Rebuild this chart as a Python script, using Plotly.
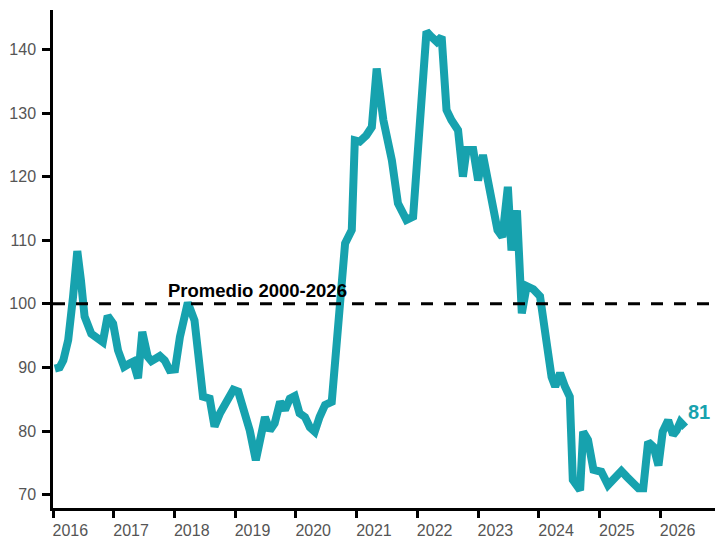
import plotly.graph_objects as go

# Traced series (decimal year, index value)
anio = [2016.03, 2016.11, 2016.17, 2016.25, 2016.33, 2016.40, 2016.46, 2016.52, 2016.63, 2016.74,
        2016.82, 2016.90, 2016.99, 2017.07, 2017.17, 2017.26, 2017.32, 2017.40, 2017.47, 2017.56,
        2017.62, 2017.76, 2017.84, 2017.92, 2018.01, 2018.09, 2018.22, 2018.33, 2018.42, 2018.47,
        2018.58, 2018.66, 2018.75, 2018.86, 2018.97, 2019.05, 2019.13, 2019.24, 2019.34, 2019.41,
        2019.49, 2019.57, 2019.65, 2019.74, 2019.82, 2019.90, 2019.98, 2020.06, 2020.15, 2020.23,
        2020.31, 2020.39, 2020.48, 2020.59, 2020.67, 2020.75, 2020.81, 2020.92, 2020.97, 2021.05,
        2021.16, 2021.25, 2021.33, 2021.44, 2021.58, 2021.68, 2021.82, 2021.93, 2022.15, 2022.23,
        2022.32, 2022.40, 2022.48, 2022.56, 2022.67, 2022.75, 2022.81, 2022.92, 2023.00, 2023.08,
        2023.17, 2023.25, 2023.32, 2023.40, 2023.49, 2023.55, 2023.64, 2023.72, 2023.80, 2023.91,
        2024.02, 2024.13, 2024.21, 2024.27, 2024.35, 2024.43, 2024.51, 2024.56, 2024.62, 2024.68,
        2024.73, 2024.81, 2024.90, 2025.03, 2025.14, 2025.25, 2025.36, 2025.45, 2025.56, 2025.64,
        2025.72, 2025.80, 2025.89, 2025.97, 2026.04, 2026.13, 2026.21, 2026.27, 2026.33, 2026.38,
        2026.41]
indice = [89.8, 90.0, 91.1, 94.3, 101.1, 108.3, 103.7, 98.0, 95.3, 94.6,
          94.0, 98.1, 96.9, 92.7, 90.1, 90.6, 90.9, 88.3, 95.6, 91.7,
          91.0, 91.8, 91.1, 89.6, 89.7, 94.8, 100.2, 97.4, 90.6, 85.4,
          85.1, 80.7, 82.8, 84.9, 86.5, 86.2, 83.8, 80.1, 75.4, 79.1,
          82.2, 80.1, 81.2, 84.6, 83.3, 85.1, 85.5, 82.8, 82.2, 80.6,
          79.9, 82.2, 84.1, 84.6, 94.3, 103.7, 109.5, 111.6, 125.7, 125.5,
          126.5, 127.8, 137.0, 128.9, 122.6, 115.8, 113.2, 113.7, 142.8, 142.0,
          141.2, 142.0, 130.5, 128.9, 127.3, 120.0, 124.2, 124.2, 119.4, 123.4,
          118.4, 114.7, 111.6, 110.5, 118.4, 108.4, 114.7, 98.5, 102.8, 102.3,
          101.2, 93.8, 88.5, 87.0, 89.1, 87.0, 85.4, 72.3, 71.2, 70.7,
          79.9, 78.6, 73.9, 73.6, 71.5, 72.8, 73.7, 72.8, 71.8, 71.0,
          71.0, 78.3, 77.5, 74.6, 79.9, 81.7, 79.4, 80.1, 81.4, 80.9,
          80.6]

promedio = 100
promedio_texto = "Promedio 2000-2026"
ultimo_texto = "81"
anios_ticks = [2016, 2017, 2018, 2019, 2020, 2021, 2022, 2023, 2024, 2025, 2026]
y_ticks = [70, 80, 90, 100, 110, 120, 130, 140]

TEAL = "#17A2AE"
FONT = "Liberation Sans, Arial, sans-serif"

fig = go.Figure()
fig.add_trace(go.Scatter(x=anio, y=indice, mode="lines",
                         line=dict(color=TEAL, width=8), hoverinfo="skip",
                         showlegend=False))

fig.add_hline(y=promedio, line=dict(color="black", width=3, dash="12px,11px"))

fig.add_annotation(x=2017.857, y=promedio, xref="x", yref="y", text=promedio_texto,
                   showarrow=False, xanchor="left", yanchor="bottom", yshift=1,
                   font=dict(family=FONT, size=18.5, color="black", weight="bold"))
fig.add_annotation(x=anio[-1], y=indice[-1], xref="x", yref="y", text=ultimo_texto,
                   showarrow=False, xanchor="left", yanchor="middle", xshift=1, yshift=15,
                   font=dict(family=FONT, size=20, color=TEAL, weight="bold"))

# page body has an 8px margin: size/margins compensate so the plot area sits at 53..723 x 10..508
fig.update_layout(
    width=715, height=531,
    margin=dict(l=45, r=0, t=2, b=31),
    paper_bgcolor="white", plot_bgcolor="white",
    font=dict(family=FONT),
)
fig.update_xaxes(range=[2016, 2027.033], tickvals=anios_ticks,
                 ticktext=[str(a) for a in anios_ticks], automargin=False,
                 showgrid=False, zeroline=False, showline=True, linecolor="black",
                 linewidth=2.5, ticks="outside", ticklen=7, tickwidth=2.5,
                 tickcolor="black", ticklabelposition="outside right",
                 ticklabelstandoff=6, ticklabelshift=-3,
                 tickfont=dict(size=16, color="#555555", family=FONT))
fig.update_yaxes(range=[67.9, 146.2], tickvals=y_ticks, automargin=False,
                 showgrid=False, zeroline=False, showline=True, linecolor="black",
                 linewidth=2.5, ticks="outside", ticklen=8, tickwidth=2.5,
                 tickcolor="black", ticklabelstandoff=3,
                 tickfont=dict(size=16, color="#555555", family=FONT))

fig.write_html("out.html")
